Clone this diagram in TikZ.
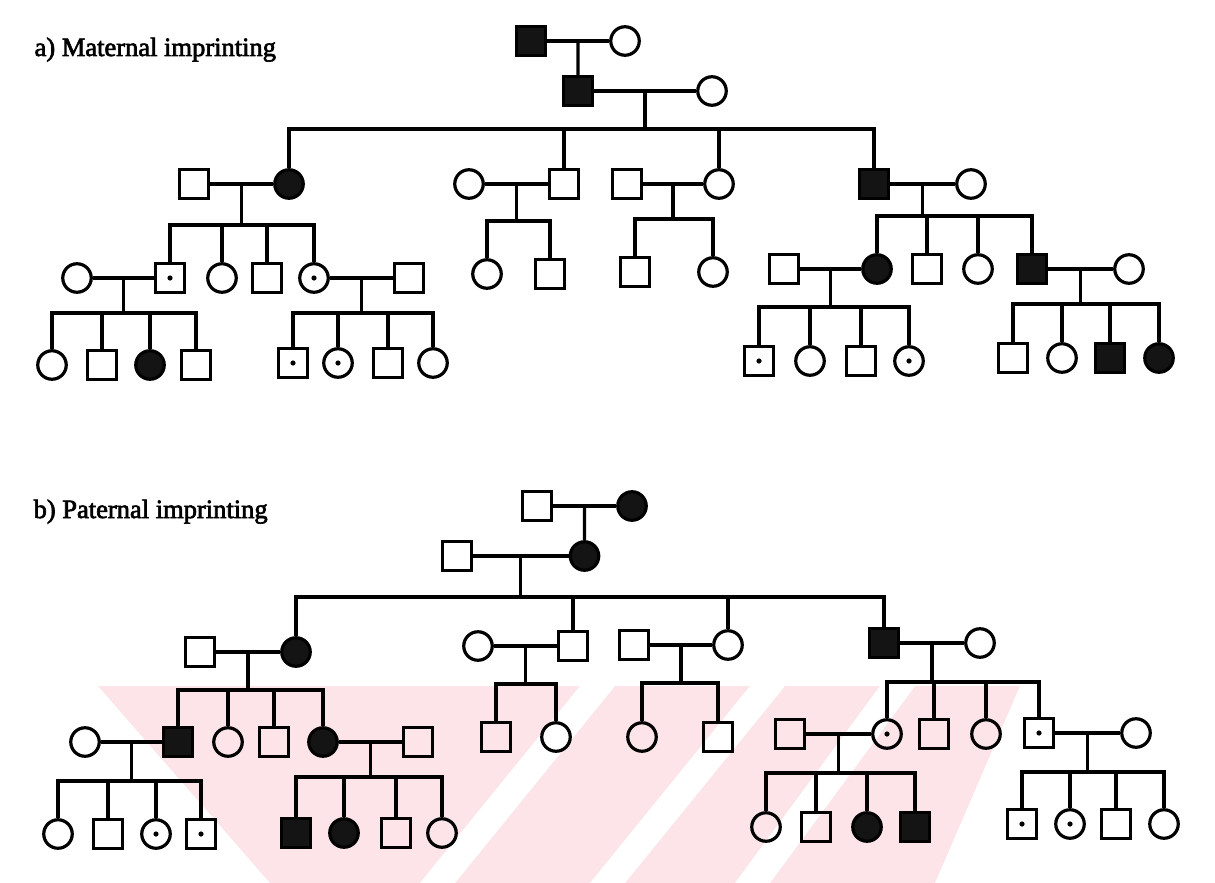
\documentclass[tikz,border=0pt]{standalone}
\usepackage{fontspec}
\setmainfont{Liberation Serif}
\newfontfamily\ttlfont{Liberation Serif}[FakeBold=2.5]
\usetikzlibrary{calc}
\definecolor{wm}{RGB}{252,228,233}
\tikzset{
  every path/.style={line width=3.2pt},
  sym/.style={draw, line width=3.2pt, inner sep=0pt, minimum size=28.5pt},
  sq/.style={sym, rectangle},
  ci/.style={sym, circle},
  aff/.style={fill=black!92},
  car/.style={path picture={\fill (path picture bounding box.center) circle (2.6pt);}},
  ttl/.style={anchor=base west, inner sep=0pt, font=\ttlfont\fontsize{26.5}{30}\selectfont}
}
\newcommand\pedfam[5]{%
  \draw (#1.east) -- (#2.west);
  \coordinate (#3) at ($(#1.east)!.5!(#2.west)$);
  \coordinate (#3s) at ($(#3)+(0,#4)$);
  \draw (#3) -- (#3s);
  \foreach \c in {#5} {\draw (#3s) -| (\c.north);}
}
\begin{document}
\begin{tikzpicture}[x=1pt,y=-1pt]
\useasboundingbox (0,0) rectangle (1215,883);
% watermark
\fill[wm] (98,686) -- (1020,686) -- (935,883) -- (270,883) -- cycle;
\fill[white] (420,883) -- (455,883) -- (615,686) -- (580,686) -- cycle;
\fill[white] (590,883) -- (625,883) -- (785,686) -- (750,686) -- cycle;
\fill[white] (735,883) -- (770,883) -- (915,686) -- (880,686) -- cycle;

% ===== a) Maternal imprinting =====
\node[ttl] (ta) at (33,56) {a) Maternal imprinting};
\node[sq,aff] (aI1) at (531,41) {};
\node[ci] (aI2) at (625,41) {};
\node[sq,aff] (aII1) at (578,91) {};
\node[ci] (aII2) at (712,91) {};
% gen III
\node[sq] (aIIIa) at (194,184) {};
\node[ci,aff] (aIIIb) at (289,184) {};
\node[ci] (aIIIc) at (469,184) {};
\node[sq] (aIIId) at (564,184) {};
\node[sq] (aIIIe) at (627,184) {};
\node[ci] (aIIIf) at (719,184) {};
\node[sq,aff] (aIIIg) at (874,184) {};
\node[ci] (aIIIh) at (971,184) {};
% gen IV left
\node[ci] (aIVa) at (77,278) {};
\node[sq,car] (aIVb) at (170,278) {};
\node[ci] (aIVc) at (222,278) {};
\node[sq] (aIVd) at (267,278) {};
\node[ci,car] (aIVe) at (314,278) {};
\node[sq] (aIVf) at (409,278) {};
\node[ci] (aIVg) at (487,274) {};
\node[sq] (aIVh) at (550,274) {};
\node[sq] (aIVi) at (635,272) {};
\node[ci] (aIVj) at (713,272) {};
% gen IV right
\node[sq] (aIVk) at (784,269) {};
\node[ci,aff] (aIVl) at (877,269) {};
\node[sq] (aIVm) at (927,269) {};
\node[ci] (aIVn) at (978,269) {};
\node[sq,aff] (aIVo) at (1032,269) {};
\node[ci] (aIVp) at (1129,269) {};
% gen V
\node[ci] (aVa) at (52,365) {};
\node[sq] (aVb) at (102,365) {};
\node[ci,aff] (aVc) at (150,365) {};
\node[sq] (aVd) at (196,365) {};
\node[sq,car] (aVe) at (293,363) {};
\node[ci,car] (aVf) at (338,363) {};
\node[sq] (aVg) at (388,363) {};
\node[ci] (aVh) at (433,363) {};
\node[sq,car] (aVi) at (759,361) {};
\node[ci] (aVj) at (810,361) {};
\node[sq] (aVk) at (861,361) {};
\node[ci,car] (aVl) at (909,361) {};
\node[sq] (aVm) at (1013,358) {};
\node[ci] (aVn) at (1062,358) {};
\node[sq,aff] (aVo) at (1110,358) {};
\node[ci,aff] (aVp) at (1159,358) {};
% connectors a
\draw (aI1.east) -- (aI2.west);
\coordinate (faI) at ($(aI1.east)!.5!(aI2.west)$);
\draw (faI) -- (aII1.north);
\pedfam{aII1}{aII2}{faII}{38}{aIIIb,aIIId,aIIIf,aIIIg}
\pedfam{aIIIa}{aIIIb}{faA}{41}{aIVb,aIVc,aIVd,aIVe}
\pedfam{aIIIc}{aIIId}{faB}{37}{aIVg,aIVh}
\pedfam{aIIIe}{aIIIf}{faC}{35}{aIVi,aIVj}
\pedfam{aIIIg}{aIIIh}{faD}{32}{aIVl,aIVm,aIVn,aIVo}
\pedfam{aIVa}{aIVb}{faE}{35}{aVa,aVb,aVc,aVd}
\pedfam{aIVe}{aIVf}{faF}{35}{aVe,aVf,aVg,aVh}
\pedfam{aIVk}{aIVl}{faG}{38}{aVi,aVj,aVk,aVl}
\pedfam{aIVo}{aIVp}{faH}{35}{aVm,aVn,aVo,aVp}

% ===== b) Paternal imprinting =====
\node[ttl] (tb) at (32,518) {b) Paternal imprinting};
\node[sq] (bI1) at (537,506) {};
\node[ci,aff] (bI2) at (632,506) {};
\node[sq] (bII1) at (457,556) {};
\node[ci,aff] (bII2) at (584.5,556) {};
% gen III
\node[sq] (bIIIa) at (200,652) {};
\node[ci,aff] (bIIIb) at (296,652) {};
\node[ci] (bIIIc) at (478,646) {};
\node[sq] (bIIId) at (573,646) {};
\node[sq] (bIIIe) at (634,645) {};
\node[ci] (bIIIf) at (728,645) {};
\node[sq,aff] (bIIIg) at (884,643) {};
\node[ci] (bIIIh) at (980,643) {};
% gen IV
\node[ci] (bIVa) at (85,742) {};
\node[sq,aff] (bIVb) at (178,742) {};
\node[ci] (bIVc) at (228,742) {};
\node[sq] (bIVd) at (274,742) {};
\node[ci,aff] (bIVe) at (323,742) {};
\node[sq] (bIVf) at (418,742) {};
\node[sq] (bIVg) at (496,737) {};
\node[ci] (bIVh) at (556,737) {};
\node[ci] (bIVi) at (642,737) {};
\node[sq] (bIVj) at (718,737) {};
\node[sq] (bIVk) at (790,734) {};
\node[ci,car] (bIVl) at (887,734) {};
\node[sq] (bIVm) at (934,734) {};
\node[ci] (bIVn) at (986,734) {};
\node[sq,car] (bIVo) at (1039,733) {};
\node[ci] (bIVp) at (1136,733) {};
% gen V
\node[ci] (bVa) at (58,834) {};
\node[sq] (bVb) at (108,834) {};
\node[ci,car] (bVc) at (156,834) {};
\node[sq,car] (bVd) at (201,834) {};
\node[sq,aff] (bVe) at (296,833) {};
\node[ci,aff] (bVf) at (344,833) {};
\node[sq] (bVg) at (396,833) {};
\node[ci] (bVh) at (442,833) {};
\node[ci] (bVi) at (766,827) {};
\node[sq] (bVj) at (816,827) {};
\node[ci,aff] (bVk) at (867,827) {};
\node[sq,aff] (bVl) at (915,827) {};
\node[sq,car] (bVm) at (1022,824) {};
\node[ci,car] (bVn) at (1070,824) {};
\node[sq] (bVo) at (1116,824) {};
\node[ci] (bVp) at (1164,824) {};
% connectors b
\draw (bI1.east) -- (bI2.west);
\coordinate (fbI) at ($(bI1.east)!.5!(bI2.west)$);
\draw (fbI) -- (bII2.north);
\pedfam{bII1}{bII2}{fbII}{41}{bIIIb,bIIId,bIIIf,bIIIg}
\pedfam{bIIIa}{bIIIb}{fbA}{38}{bIVb,bIVc,bIVd,bIVe}
\pedfam{bIIIc}{bIIId}{fbB}{38}{bIVg,bIVh}
\pedfam{bIIIe}{bIIIf}{fbC}{38}{bIVi,bIVj}
\pedfam{bIIIg}{bIIIh}{fbD}{39}{bIVl,bIVm,bIVn,bIVo}
\pedfam{bIVa}{bIVb}{fbE}{39}{bVa,bVb,bVc,bVd}
\pedfam{bIVe}{bIVf}{fbF}{35}{bVe,bVf,bVg,bVh}
\pedfam{bIVk}{bIVl}{fbG}{39}{bVi,bVj,bVk,bVl}
\pedfam{bIVo}{bIVp}{fbH}{39}{bVm,bVn,bVo,bVp}
\end{tikzpicture}
\end{document}
